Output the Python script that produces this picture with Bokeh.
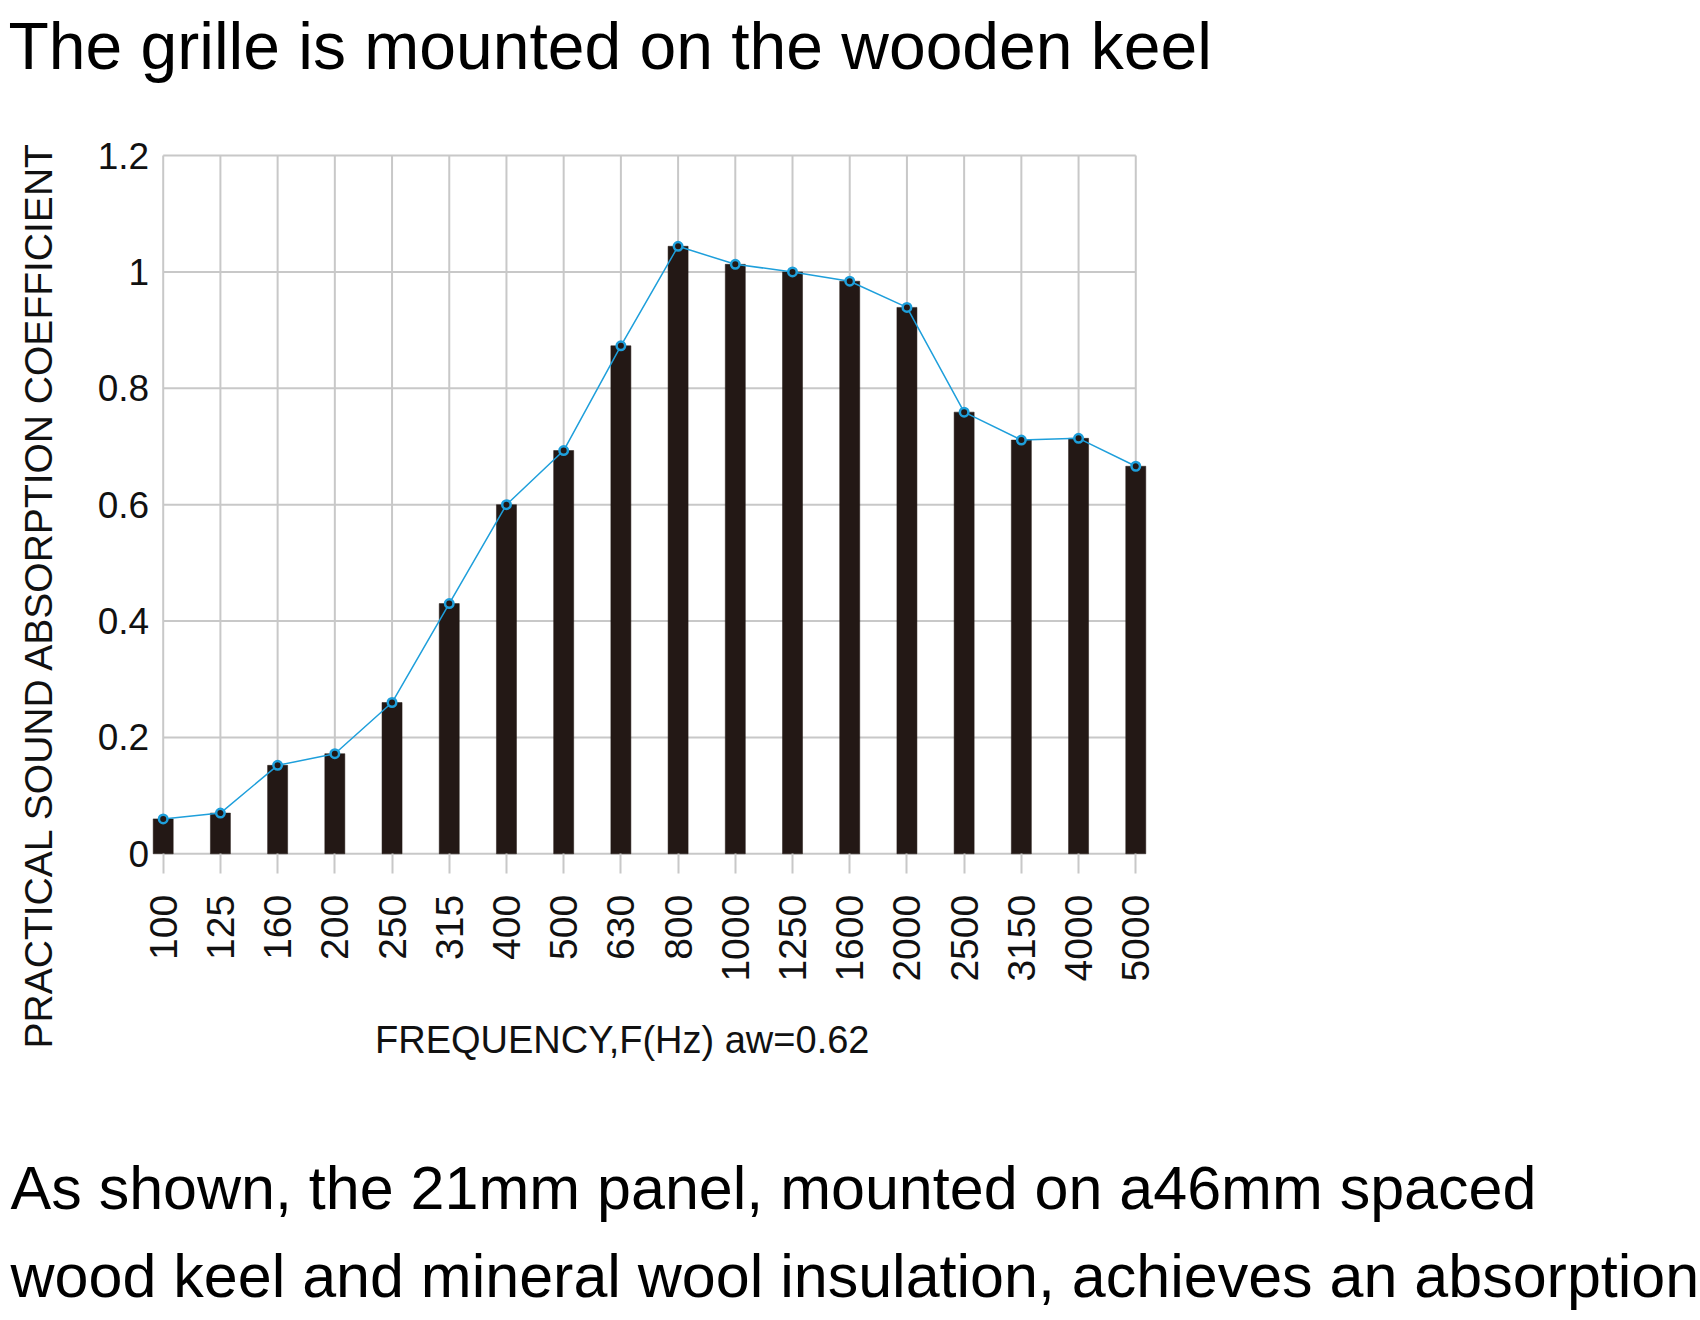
import math
from bokeh.plotting import figure
from bokeh.models import Range1d, FixedTicker, Label
from bokeh.embed import file_html
from bokeh.resources import INLINE

# ---- data ----
frequencies = ["100", "125", "160", "200", "250", "315", "400", "500", "630", "800",
               "1000", "1250", "1600", "2000", "2500", "3150", "4000", "5000"]
absorption = [0.06, 0.07, 0.152, 0.172, 0.26, 0.43, 0.60, 0.693, 0.873, 1.044,
              1.013, 1.0, 0.984, 0.939, 0.759, 0.711, 0.714, 0.666]
y_ticks = [0, 0.2, 0.4, 0.6, 0.8, 1.0, 1.2]
y_tick_labels = ["0", "0.2", "0.4", "0.6", "0.8", "1", "1.2"]

title_text = "The grille is mounted on the wooden keel"
y_title = "PRACTICAL SOUND ABSORPTION COEFFICIENT"
x_title = "FREQUENCY,F(Hz)  aw=0.62"
note_lines = ["As shown, the 21mm panel, mounted on a46mm spaced",
              "wood keel and mineral wool insulation, achieves an absorption"]

xs = list(range(len(frequencies)))

FONT = "Liberation Sans"
GRID = "#c8c8c8"
BAR = "#231815"
BLUE = "#1e9fdb"
TXT = "#111111"

W, H = 1698, 1318
# page layout: category 0 at 162.7px, spacing 57.21px; value 0 at 853.3px, 581.9px per unit
PX0, DX = 162.7, 57.21
PY0, DY = 853.3, 581.9
x_start = -PX0 / DX
y_end = PY0 / DY

p = figure(width=W, height=H, min_border=0,
           x_range=Range1d(x_start, x_start + W / DX),
           y_range=Range1d(y_end - H / DY, y_end),
           output_backend="svg", toolbar_location=None)
p.outline_line_color = None
p.grid.visible = False
p.title.visible = False
p.background_fill_color = "white"
p.border_fill_color = "white"

# grid drawn only over the category span
p.segment(x0=[xs[0]] * len(y_ticks), x1=[xs[-1]] * len(y_ticks), y0=y_ticks, y1=y_ticks,
          line_color=GRID, line_width=2)
p.segment(x0=xs, x1=xs, y0=[y_ticks[0]] * len(xs), y1=[y_ticks[-1]] * len(xs),
          line_color=GRID, line_width=2)

p.vbar(x=xs, top=absorption, width=0.35, bottom=0, fill_color=BAR, line_color=BAR, line_width=0.5)
p.line(xs, absorption, line_color=BLUE, line_width=1.5)
p.scatter(xs, absorption, size=8.5, fill_color=BAR, line_color=BLUE, line_width=2.5)

# x axis, fixed at value 0
xa = p.xaxis[0]
xa.fixed_location = 0
xa.ticker = FixedTicker(ticks=xs)
xa.major_label_overrides = {i: f for i, f in zip(xs, frequencies)}
xa.major_label_orientation = math.pi / 2
xa.axis_line_color = None
xa.major_tick_line_color = GRID
xa.major_tick_line_width = 2
xa.major_tick_out = 20
xa.major_tick_in = 0
xa.minor_tick_line_color = None
xa.major_label_standoff = 21
xa.major_label_text_font = FONT
xa.major_label_text_font_size = "39px"
xa.major_label_text_color = TXT

# y axis, fixed at the first category
ya = p.yaxis[0]
ya.fixed_location = 0
ya.ticker = FixedTicker(ticks=y_ticks)
ya.major_label_overrides = dict(zip(y_ticks, y_tick_labels))
ya.axis_line_color = None
ya.major_tick_line_color = None
ya.major_tick_out = 0
ya.major_tick_in = 0
ya.minor_tick_line_color = None
ya.major_label_standoff = 14
ya.major_label_text_font = FONT
ya.major_label_text_font_size = "37px"
ya.major_label_text_color = TXT

def px_x(px):
    return (px - PX0) / DX

def px_y(py):
    return (PY0 - py) / DY

p.add_layout(Label(x=px_x(8), y=px_y(45), text=title_text, text_font=FONT,
                   text_font_size="66px", text_color="black",
                   text_align="left", text_baseline="alphabetic"))
p.add_layout(Label(x=px_x(37.5), y=px_y(594), text=y_title, angle=math.pi / 2,
                   text_font=FONT, text_font_size="39px", text_color=TXT,
                   text_align="center", text_baseline="middle"))
p.add_layout(Label(x=px_x(627), y=px_y(1039), text=x_title, text_font=FONT,
                   text_font_size="38px", text_color=TXT,
                   text_align="center", text_baseline="alphabetic"))
p.add_layout(Label(x=px_x(10), y=px_y(1187), text=note_lines[0], text_font=FONT,
                   text_font_size="61px", text_color="black",
                   text_align="left", text_baseline="alphabetic"))
p.add_layout(Label(x=px_x(10), y=px_y(1275), text=note_lines[1], text_font=FONT,
                   text_font_size="61px", text_color="black",
                   text_align="left", text_baseline="alphabetic"))

open("out.html", "w").write(file_html(p, INLINE))
